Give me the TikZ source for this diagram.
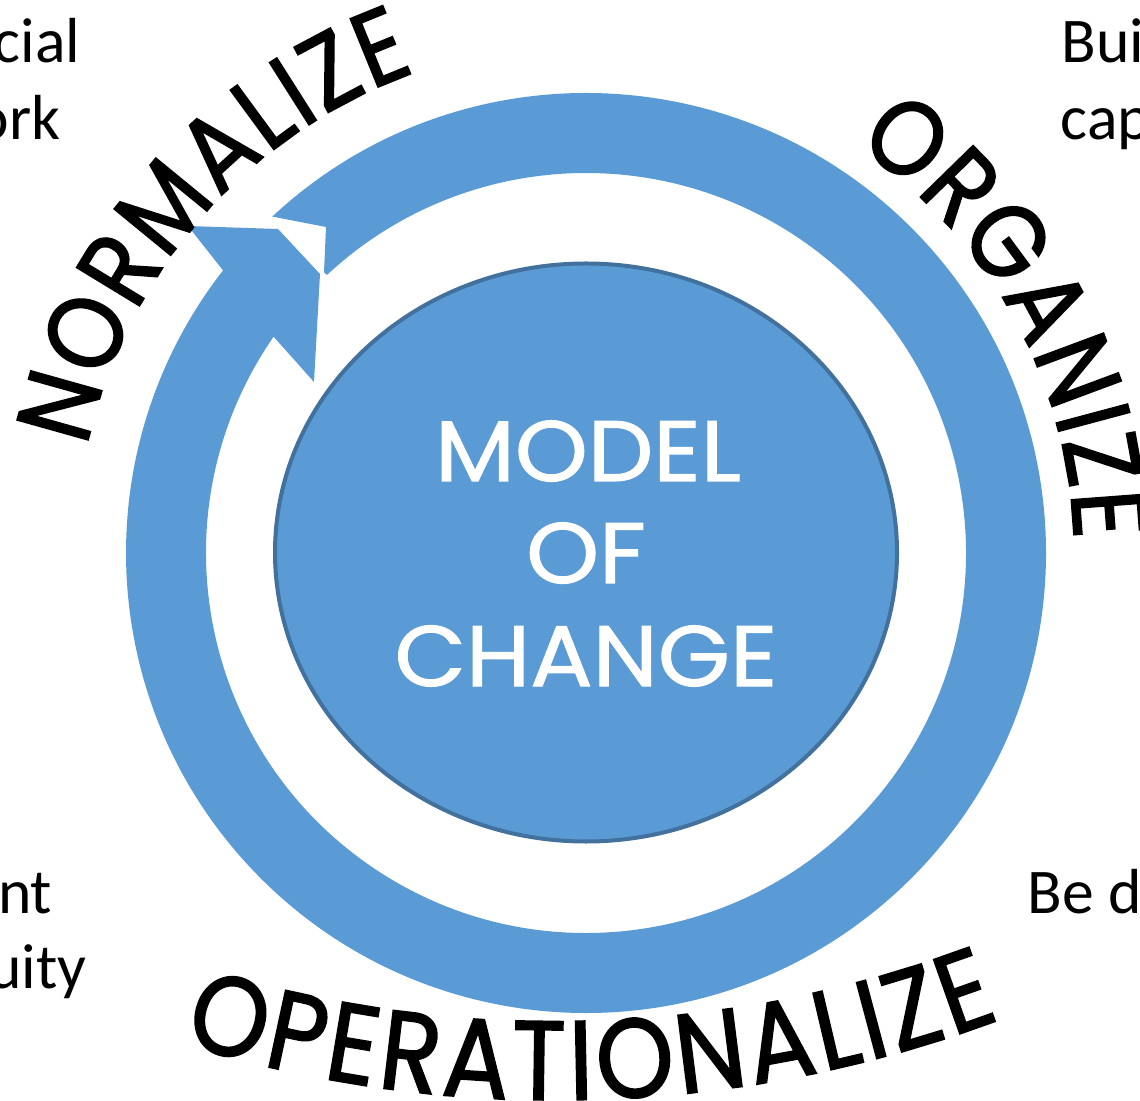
\documentclass[tikz,border=0pt]{standalone}
\usepackage{fontspec}
\setmainfont{Carlito}
\newfontfamily\popfont{Poppins}[FakeBold=1.6, FakeStretch=0.88]
\newfontfamily\popcenter{Poppins}[FakeBold=1.3, FakeStretch=1.08]
\usetikzlibrary{decorations.text}
\definecolor{ringblue}{HTML}{5B9BD5}
\definecolor{rimblue}{HTML}{41719C}
\begin{document}
\begin{tikzpicture}[x=0.01cm,y=0.01cm,
  sidetext/.style={font=\fontsize{18.1}{22}\selectfont, inner sep=0pt, text=black},
  centertext/.style={font=\popcenter\fontsize{24.4}{29}\selectfont, text=white, inner sep=0pt, anchor=base},
  arctext/.style={decorate, decoration={text along path, text align=fit to path, text color=black}}]
\useasboundingbox (0,0) rectangle (1140,-1101);
\coordinate (C) at (586,-553);
\coordinate (B) at (556,163);
% ring with arrow head
\begin{scope}[shift={(C)}]
\fill[ringblue] (142.1:460) -- (-398,327) -- (-308,324) -- (-266,279) -- (-272,171) -- (145.3:380)
  arc[start angle=145.3, end angle=493, radius=380]
  -- (-262,281) -- (-260,326) -- (133:460)
  arc[start angle=133, end angle=-217.9, radius=460] -- cycle;
\end{scope}
% inner disc
\filldraw[fill=ringblue, draw=rimblue, line width=0.04cm] (586,-552.5) ellipse[x radius=311, y radius=289];
\node[centertext] (m1) at (588,-481) {MODEL};
\node[centertext] (m2) at (586,-583) {OF};
\node[centertext] (m3) at (586,-686) {CHANGE};
% curved labels
\path[arctext, decoration={text={|\popfont\fontsize{30}{32}\selectfont|NORMALIZE}}]
  (C) ++(168:510) arc[start angle=168, end angle=109.5, radius=510];
\path[arctext, decoration={text={|\popfont\fontsize{30}{32}\selectfont|ORGANIZE}}]
  (C) ++(56.5:488) arc[start angle=56.5, end angle=1.5, radius=488];
\path[arctext, decoration={text={|\popfont\fontsize{32}{34}\selectfont|OPERATIONALIZE}}]
  (B) ++(252.8:1263) arc[start angle=252.8, end angle=290.6, radius=1263];
% side texts
\node[sidetext, anchor=base east] (t1) at (81,-63) {cial};
\node[sidetext, anchor=base east] (t2) at (61,-140) {ork};
\node[sidetext, anchor=base west] (t3) at (1061,-63) {Bui};
\node[sidetext, anchor=base west] (t4) at (1060,-140) {cap};
\node[sidetext, anchor=base east] (t5) at (53,-913) {nt};
\node[sidetext, anchor=base east] (t6) at (87,-988) {uity};
\node[sidetext, anchor=base west] (t7) at (1027,-913) {Be d};
\end{tikzpicture}
\end{document}
